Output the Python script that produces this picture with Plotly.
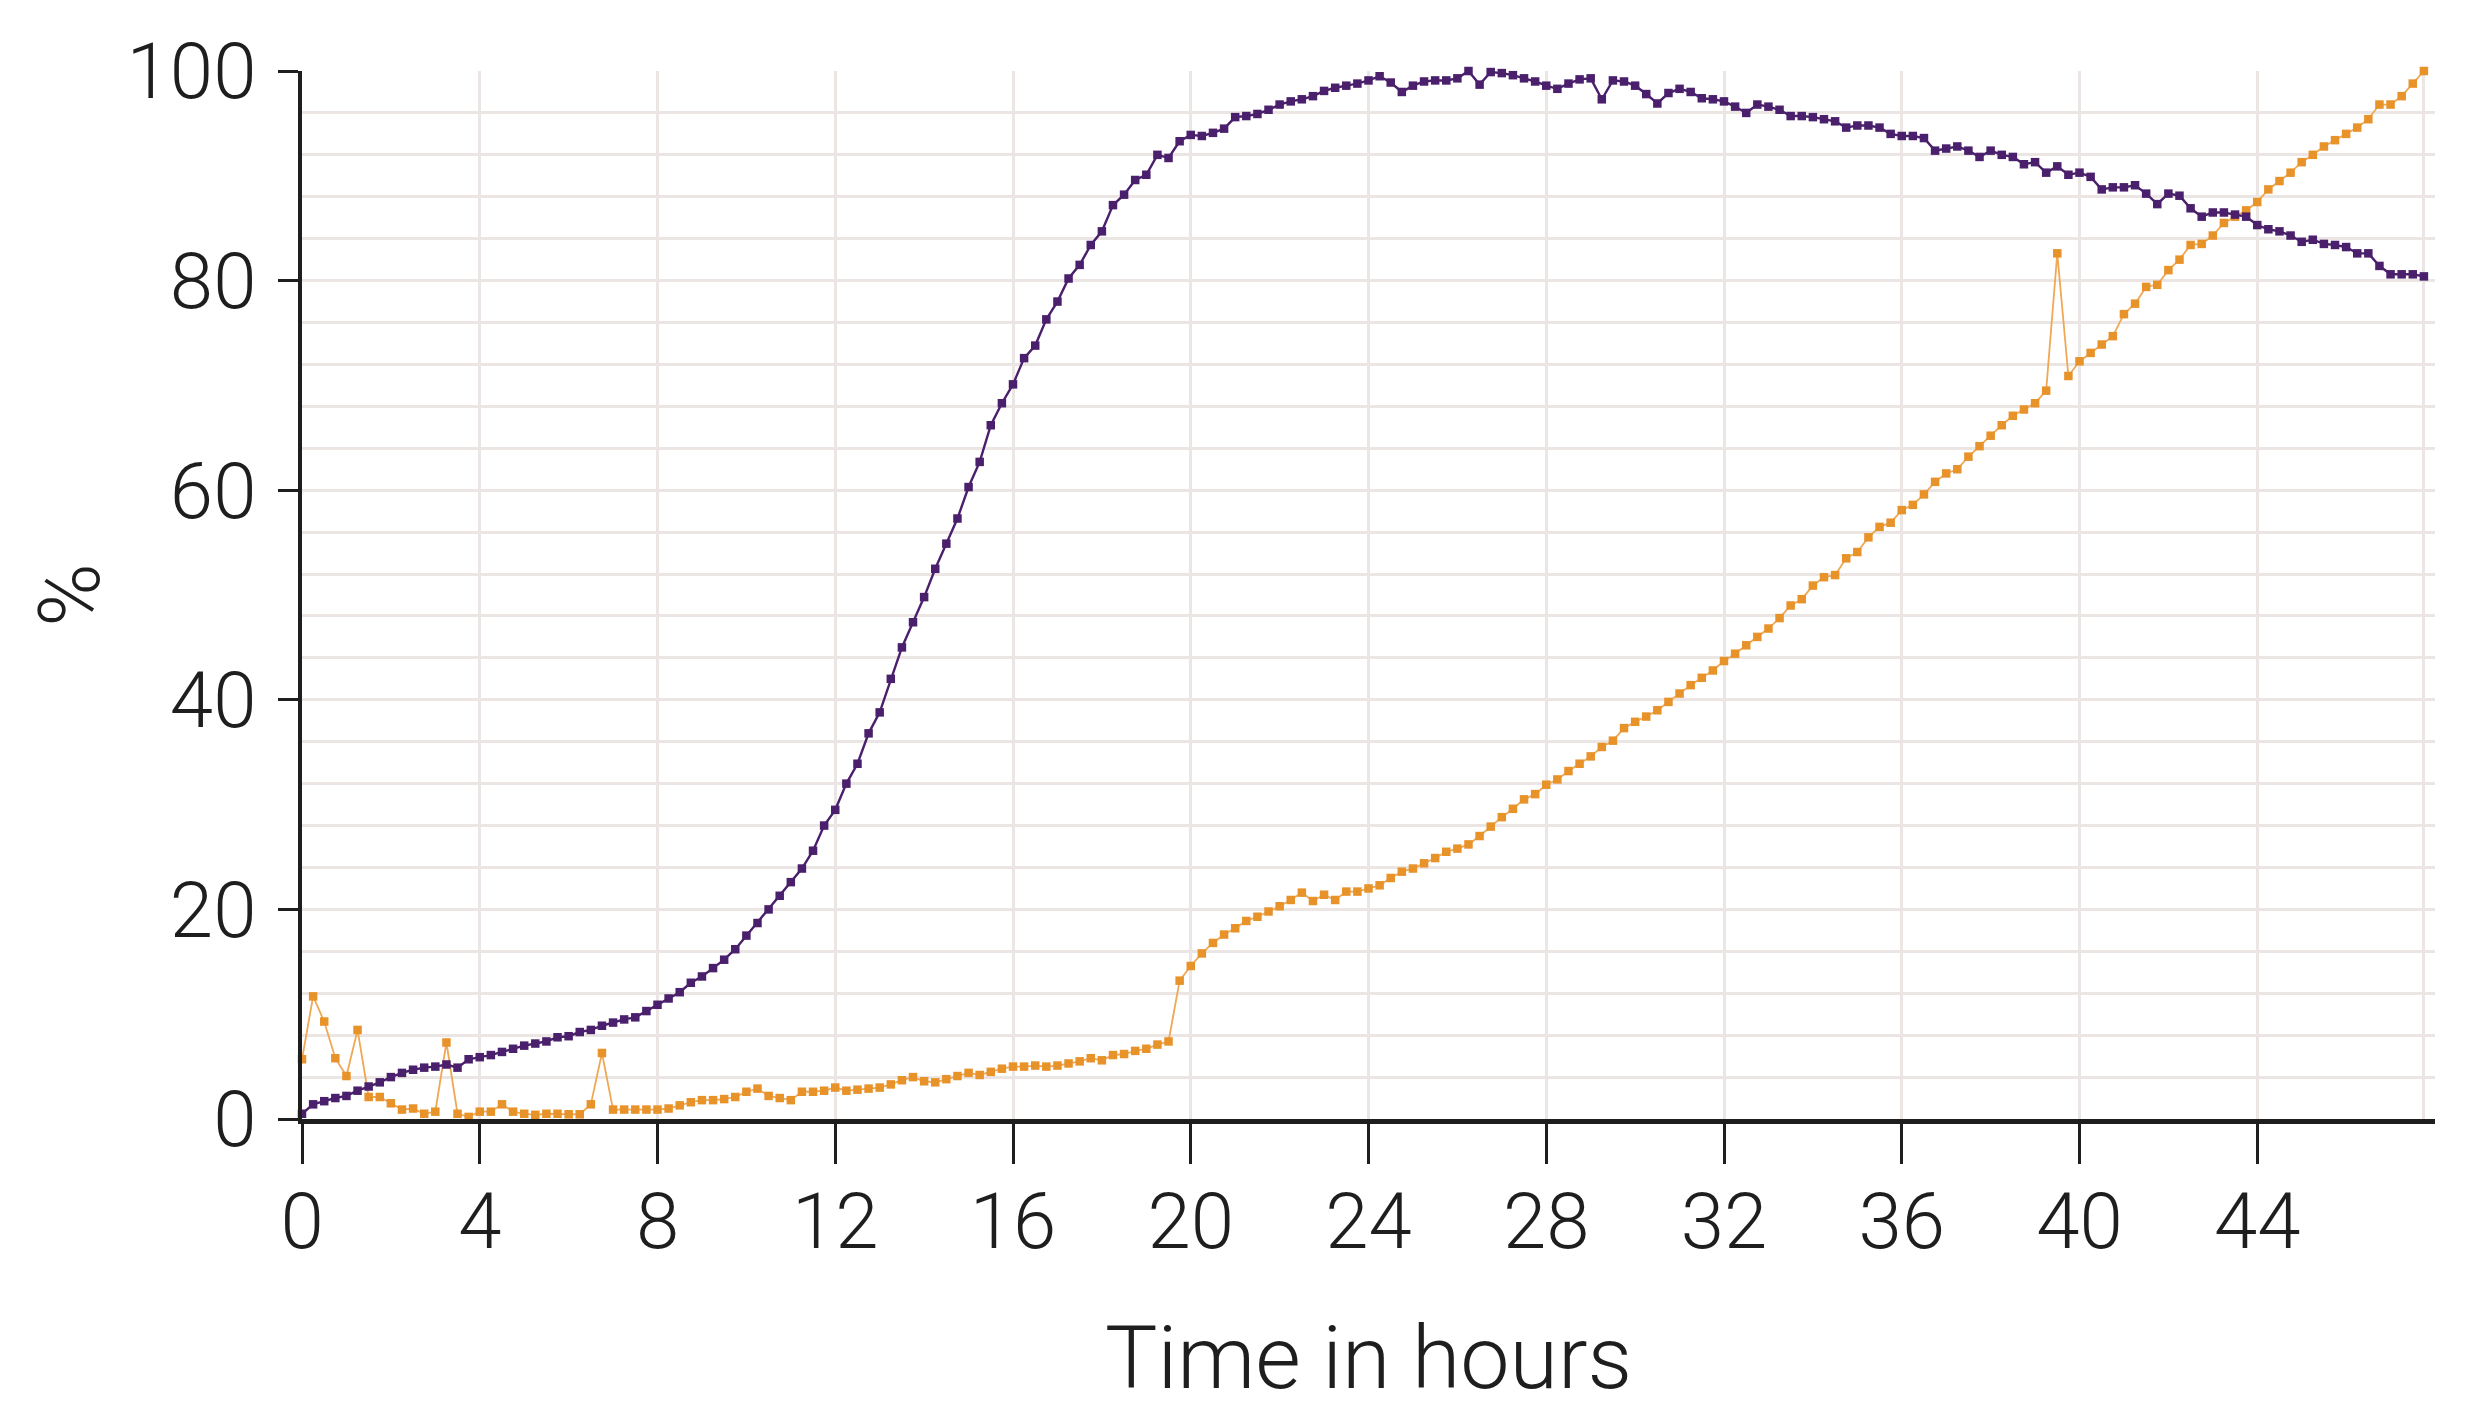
import plotly.graph_objects as go

# time axis: one reading every 15 minutes
hours = [i / 4 for i in range(192)]

# purple series (%), one row per hour (4 readings each)
purple_values = [
    0.5, 1.4, 1.7, 2.0,
    2.2, 2.7, 3.1, 3.5,
    4.0, 4.4, 4.7, 4.9,
    5.0, 5.2, 4.9, 5.7,
    5.9, 6.1, 6.4, 6.7,
    7.0, 7.2, 7.4, 7.8,
    7.9, 8.3, 8.5, 8.9,
    9.2, 9.5, 9.7, 10.3,
    10.9, 11.5, 12.1, 13.0,
    13.6, 14.4, 15.2, 16.2,
    17.5, 18.7, 20.0, 21.3,
    22.6, 23.9, 25.6, 28.0,
    29.5, 32.0, 33.9, 36.8,
    38.8, 42.0, 45.0, 47.4,
    49.8, 52.5, 54.9, 57.3,
    60.3, 62.7, 66.2, 68.3,
    70.1, 72.6, 73.8, 76.3,
    78.0, 80.2, 81.5, 83.4,
    84.7, 87.2, 88.2, 89.6,
    90.1, 92.0, 91.7, 93.3,
    93.9, 93.8, 94.1, 94.5,
    95.6, 95.7, 95.9, 96.3,
    96.8, 97.1, 97.3, 97.6,
    98.1, 98.4, 98.6, 98.8,
    99.1, 99.5, 98.9, 98.0,
    98.6, 99.0, 99.1, 99.1,
    99.3, 100.0, 98.7, 99.9,
    99.8, 99.6, 99.3, 99.0,
    98.6, 98.3, 98.8, 99.2,
    99.3, 97.3, 99.1, 99.0,
    98.6, 97.8, 96.9, 97.9,
    98.3, 98.0, 97.4, 97.3,
    97.1, 96.6, 96.0, 96.8,
    96.6, 96.3, 95.7, 95.7,
    95.6, 95.4, 95.2, 94.6,
    94.8, 94.8, 94.6, 94.0,
    93.8, 93.8, 93.6, 92.4,
    92.6, 92.8, 92.4, 91.8,
    92.4, 92.0, 91.8, 91.1,
    91.3, 90.3, 90.9, 90.1,
    90.3, 89.9, 88.7, 88.9,
    88.9, 89.1, 88.3, 87.3,
    88.3, 88.1, 86.9, 86.1,
    86.5, 86.5, 86.3, 86.1,
    85.3, 84.9, 84.7, 84.3,
    83.7, 83.9, 83.5, 83.4,
    83.2, 82.6, 82.6, 81.4,
    80.6, 80.6, 80.6, 80.4,
]

# orange series (%), one row per hour (4 readings each)
orange_values = [
    5.7, 11.7, 9.3, 5.8,
    4.1, 8.5, 2.1, 2.1,
    1.5, 0.9, 1.0, 0.5,
    0.7, 7.3, 0.5, 0.2,
    0.7, 0.7, 1.4, 0.7,
    0.5, 0.4, 0.5, 0.5,
    0.45, 0.45, 1.4, 6.3,
    0.9, 0.9, 0.9, 0.9,
    0.9, 1.0, 1.3, 1.6,
    1.8, 1.8, 1.9, 2.1,
    2.6, 2.9, 2.2, 2.0,
    1.8, 2.6, 2.6, 2.7,
    3.0, 2.7, 2.8, 2.9,
    3.0, 3.3, 3.7, 4.0,
    3.6, 3.5, 3.8, 4.1,
    4.4, 4.2, 4.5, 4.8,
    5.0, 5.0, 5.1, 5.0,
    5.1, 5.3, 5.5, 5.8,
    5.6, 6.1, 6.2, 6.5,
    6.7, 7.1, 7.4, 13.2,
    14.6, 15.8, 16.8, 17.6,
    18.2, 18.9, 19.3, 19.8,
    20.3, 20.9, 21.6, 20.8,
    21.4, 20.9, 21.7, 21.7,
    22.0, 22.3, 23.0, 23.6,
    23.9, 24.4, 24.9, 25.5,
    25.8, 26.2, 27.0, 27.9,
    28.8, 29.6, 30.5, 31.0,
    31.9, 32.4, 33.2, 33.9,
    34.6, 35.5, 36.1, 37.3,
    37.9, 38.4, 39.0, 39.8,
    40.6, 41.4, 42.1, 42.8,
    43.7, 44.4, 45.2, 46.0,
    46.8, 47.8, 49.0, 49.6,
    50.9, 51.7, 51.9, 53.5,
    54.1, 55.5, 56.5, 56.9,
    58.1, 58.6, 59.6, 60.8,
    61.6, 62.0, 63.2, 64.2,
    65.2, 66.2, 67.1, 67.7,
    68.3, 69.5, 82.6, 70.9,
    72.3, 73.1, 73.9, 74.7,
    76.8, 77.8, 79.4, 79.6,
    81.0, 82.0, 83.4, 83.5,
    84.3, 85.5, 86.1, 86.7,
    87.5, 88.7, 89.5, 90.3,
    91.3, 92.0, 92.8, 93.4,
    94.0, 94.6, 95.4, 96.8,
    96.8, 97.6, 98.8, 100.0,
]

x_tick_values = [0, 4, 8, 12, 16, 20, 24, 28, 32, 36, 40, 44]
x_tick_labels = [str(v) for v in x_tick_values]
y_tick_values = [0, 20, 40, 60, 80, 100]
y_tick_labels = [str(v) for v in y_tick_values]
y_grid_values = list(range(4, 100, 4))
x_grid_values = x_tick_values[1:] + [hours[-1]]

x_title = "Time in hours"
y_title = "%"

PURPLE = "#4a1f6c"
ORANGE = "#e8922a"
ORANGE_LINE = "#efa855"
TEXT = "#1e1e1e"
GRID = "#ebe6e3"
FONT = "Roboto"

fig = go.Figure()
fig.add_trace(go.Scatter(
    x=hours, y=orange_values, mode="lines+markers",
    line=dict(color=ORANGE_LINE, width=1.8),
    marker=dict(symbol="square", size=8.5, color=ORANGE),
    cliponaxis=False, showlegend=False,
))
fig.add_trace(go.Scatter(
    x=hours, y=purple_values, mode="lines+markers",
    line=dict(color=PURPLE, width=2.4),
    marker=dict(symbol="square", size=8.5, color=PURPLE),
    cliponaxis=False, showlegend=False,
))

tick_font = dict(family=FONT, size=78, color=TEXT, weight=300)

fig.update_layout(
    width=2465, height=1411,
    margin=dict(l=302, r=30, t=71, b=292, autoexpand=False),
    paper_bgcolor="white", plot_bgcolor="white",
    font=dict(family=FONT, color=TEXT, weight=300),
    xaxis=dict(
        range=[0, 48], tickmode="array", tickvals=x_grid_values,
        showticklabels=False, ticks="", showgrid=True, automargin=False,
        gridcolor=GRID, gridwidth=3, zeroline=False, showline=False,
    ),
    xaxis2=dict(
        overlaying="x", anchor="y", side="bottom", range=[0, 48],
        tickmode="array", tickvals=x_tick_values, ticktext=x_tick_labels,
        ticks="outside", ticklen=40, tickwidth=3, tickcolor=TEXT,
        showline=True, linecolor=TEXT, linewidth=5, automargin=False,
        showgrid=False, zeroline=False,
        tickfont=tick_font, ticklabelstandoff=-10,
    ),
    yaxis=dict(
        range=[0, 100], tickmode="array", tickvals=y_grid_values,
        showticklabels=False, ticks="", showgrid=True, automargin=False,
        gridcolor=GRID, gridwidth=3, zeroline=False, showline=False,
    ),
    yaxis2=dict(
        overlaying="y", anchor="x", side="left", range=[0, 100],
        tickmode="array", tickvals=y_tick_values, ticktext=y_tick_labels,
        ticks="outside", ticklen=20, tickwidth=3, tickcolor=TEXT,
        showline=True, linecolor=TEXT, linewidth=4, automargin=False,
        showgrid=False, zeroline=False,
        tickfont=tick_font, ticklabelstandoff=6,
        title=dict(text=y_title, font=dict(family=FONT, size=86, color=TEXT, weight=300),
                   standoff=0),
    ),
    annotations=[dict(
        text=x_title, xref="paper", yref="paper", x=0.5, y=-0.2786,
        xanchor="center", yanchor="bottom", showarrow=False,
        font=dict(family=FONT, size=88, color=TEXT, weight=300),
    )],
)

# invisible helper traces so the overlay axes are rendered
fig.add_trace(go.Scatter(x=[0], y=[0], xaxis="x2", yaxis="y", mode="markers",
                         marker=dict(opacity=0), showlegend=False, hoverinfo="skip"))
fig.add_trace(go.Scatter(x=[0], y=[0], xaxis="x", yaxis="y2", mode="markers",
                         marker=dict(opacity=0), showlegend=False, hoverinfo="skip"))

fig.write_html("out.html")
